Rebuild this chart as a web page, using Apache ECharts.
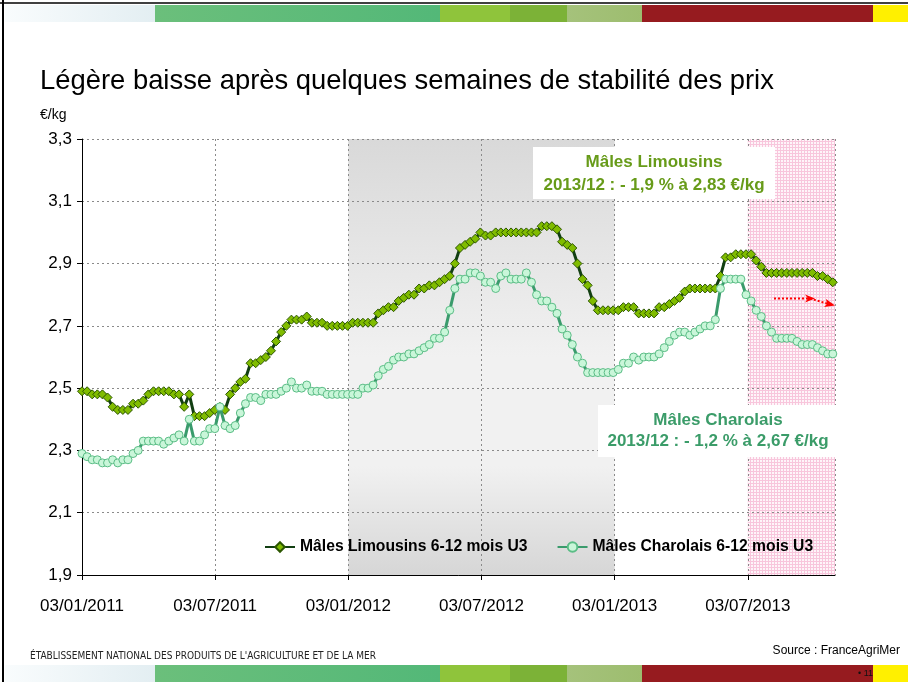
<!DOCTYPE html>
<html><head><meta charset="utf-8">
<script src="https://cdn.jsdelivr.net/npm/echarts@6/dist/echarts.min.js"></script>
<style>html,body{margin:0;padding:0;background:#fff}#c{width:908px;height:682px}</style>
</head><body><div id="c"></div>
<script>
// ---- data ----
const startDate = '2011-01-03';           // first weekly quotation
const xTickLabels = ['03/01/2011','03/07/2011','03/01/2012','03/07/2012','03/01/2013','03/07/2013'];
const seriesNames = ['Mâles Limousins 6-12 mois U3','Mâles Charolais 6-12 mois U3'];
const limousin = [
 2.49,2.49,2.48,2.48,2.48,2.47,2.44,2.43,2.43,2.43,
 2.45,2.45,2.46,2.48,2.49,2.49,2.49,2.49,2.48,2.48,
 2.44,2.48,2.41,2.41,2.41,2.42,2.43,2.44,2.43,2.48,
 2.50,2.52,2.53,2.58,2.58,2.59,2.60,2.62,2.65,2.68,
 2.70,2.72,2.72,2.72,2.73,2.71,2.71,2.71,2.70,2.70,
 2.70,2.70,2.70,2.71,2.71,2.71,2.71,2.71,2.74,2.75,
 2.76,2.76,2.78,2.79,2.80,2.80,2.82,2.82,2.83,2.83,
 2.84,2.85,2.86,2.90,2.95,2.96,2.97,2.98,3.00,2.99,
 2.99,3.00,3.00,3.00,3.00,3.00,3.00,3.00,3.00,3.00,
 3.02,3.02,3.02,3.01,2.97,2.96,2.95,2.90,2.85,2.83,
 2.78,2.75,2.75,2.75,2.75,2.75,2.76,2.76,2.76,2.74,
 2.74,2.74,2.74,2.76,2.76,2.77,2.78,2.79,2.81,2.82,
 2.82,2.82,2.82,2.82,2.82,2.86,2.92,2.92,2.93,2.93,
 2.93,2.93,2.91,2.89,2.87,2.87,2.87,2.87,2.87,2.87,
 2.87,2.87,2.87,2.87,2.86,2.86,2.85,2.84
];
const charolais = [
 2.29,2.28,2.27,2.27,2.26,2.26,2.27,2.26,2.27,2.27,
 2.29,2.30,2.33,2.33,2.33,2.33,2.32,2.33,2.34,2.35,
 2.33,2.40,2.33,2.33,2.35,2.37,2.37,2.44,2.38,2.37,
 2.38,2.42,2.45,2.47,2.47,2.46,2.48,2.48,2.48,2.49,
 2.50,2.52,2.50,2.50,2.51,2.49,2.49,2.49,2.48,2.48,
 2.48,2.48,2.48,2.48,2.48,2.50,2.50,2.51,2.54,2.56,
 2.57,2.59,2.60,2.60,2.61,2.61,2.62,2.63,2.64,2.66,
 2.66,2.68,2.75,2.82,2.85,2.85,2.87,2.87,2.86,2.84,
 2.84,2.82,2.86,2.87,2.85,2.85,2.85,2.87,2.84,2.80,
 2.78,2.78,2.76,2.74,2.69,2.67,2.64,2.60,2.58,2.55,
 2.55,2.55,2.55,2.55,2.55,2.56,2.58,2.58,2.60,2.59,
 2.60,2.60,2.60,2.61,2.63,2.65,2.67,2.68,2.68,2.67,
 2.68,2.69,2.70,2.70,2.72,2.82,2.85,2.85,2.85,2.85,
 2.80,2.78,2.75,2.73,2.70,2.68,2.66,2.66,2.66,2.66,
 2.65,2.64,2.64,2.64,2.63,2.62,2.61,2.61
];
const grayPeriod = ['2012-01-03','2013-01-03'];
const pinkPeriod = ['2013-07-03','2013-10-31'];
const annotations = [
  'Mâles Limousins\n2013/12 : - 1,9 % à 2,83 €/kg',
  'Mâles Charolais\n2013/12 : - 1,2 % à 2,67 €/kg'
];

// ---- helpers ----
const DAY = 86400000;
const t0 = Date.parse(startDate);
const dayOf = s => Math.round((Date.parse(s) - t0) / DAY);
const HALF = 182.5;
const weekDays = limousin.map((_, i) => i * 7);
const FONT = "'Liberation Sans', Arial, sans-serif";

const pat = document.createElement('canvas');
pat.width = 3; pat.height = 3;
const pg = pat.getContext('2d');
pg.fillStyle = '#fef5f9'; pg.fillRect(0, 0, 3, 3);
pg.fillStyle = '#f8c6dc'; pg.fillRect(0, 0, 3, 1); pg.fillRect(0, 0, 1, 3);

const bandSegs = [
  [5, 155, ['#f9fcfd', '#e3eef2']],
  [155, 440, ['#6bbf7b', '#53b878']],
  [440, 510, ['#8fc43b', '#8fc43b']],
  [510, 567, ['#7cb237', '#7cb237']],
  [567, 642, ['#a5c27b', '#9dbd6f']],
  [642, 873, ['#961b1f', '#961b1f']],
  [873, 908, ['#fff000', '#fff000']]
];
function band(y, h) {
  return bandSegs.map(([a, b, c]) => ({
    type: 'rect', shape: { x: a, y: y, width: b - a, height: h }, silent: true,
    style: { fill: new echarts.graphic.LinearGradient(0, 0, 1, 0, [{ offset: 0, color: c[0] }, { offset: 1, color: c[1] }]) }
  }));
}

const chart = echarts.init(document.getElementById('c'), null, { renderer: 'canvas' });
chart.setOption({
  animation: false,
  backgroundColor: '#fff',
  textStyle: { fontFamily: FONT },
  title: {
    text: 'Légère baisse après quelques semaines de stabilité des prix',
    left: 35, top: 63,
    textStyle: { fontFamily: FONT, fontSize: 27.4, fontWeight: 'normal', color: '#000' }
  },
  grid: { left: 82, right: 73, top: 139, bottom: 107 },
  legend: {
    left: 259, top: 534, itemWidth: 30, itemHeight: 12, itemGap: 29,
    textStyle: { fontFamily: FONT, fontSize: 15.7, fontWeight: 'bold', color: '#000' },
    data: seriesNames
  },
  xAxis: {
    type: 'value', min: 0, max: 1032, interval: HALF, z: 1,
    axisLine: { lineStyle: { color: '#000', width: 1 } },
    axisTick: { show: true, length: 5, lineStyle: { color: '#000' } },
    axisLabel: { fontFamily: FONT, fontSize: 17, color: '#000', margin: 23, showMaxLabel: false,
      formatter: v => xTickLabels[Math.round(v / HALF)] || '' },
    splitLine: { show: true, lineStyle: { color: '#8a8a8a', type: [2, 3], width: 1 } }
  },
  yAxis: {
    type: 'value', min: 1.9, max: 3.3, interval: 0.2, z: 1,
    axisLine: { show: true, lineStyle: { color: '#000', width: 1 } },
    axisTick: { show: true, length: 5, lineStyle: { color: '#000' } },
    axisLabel: { fontFamily: FONT, fontSize: 17, color: '#000', margin: 10,
      formatter: v => v.toFixed(1).replace('.', ',') },
    splitLine: { show: true, lineStyle: { color: '#8a8a8a', type: [2, 3], width: 1 } }
  },
  series: [
    {
      type: 'line', name: 'shade', data: [], z: 0, silent: true,
      markArea: {
        silent: true, z: 0,
        data: [
          [{ xAxis: Math.round(dayOf(grayPeriod[0]) / HALF) * HALF, itemStyle: { color: new echarts.graphic.LinearGradient(0, 0, 0, 1, [
              { offset: 0, color: '#d9d9d9' }, { offset: 0.5, color: '#f1f1f1' }, { offset: 0.75, color: '#f1f1f1' }, { offset: 1, color: '#d6d6d6' }]) } },
           { xAxis: Math.round(dayOf(grayPeriod[1]) / HALF) * HALF }],
          [{ xAxis: Math.round(dayOf(pinkPeriod[0]) / HALF) * HALF, itemStyle: { color: { image: pat, repeat: 'repeat' } } },
           { xAxis: 1032 }]
        ]
      }
    },
    {
      type: 'line', name: seriesNames[0], z: 3,
      data: weekDays.map((d, i) => [d, limousin[i]]),
      symbol: 'diamond', symbolSize: 9, showAllSymbol: true,
      lineStyle: { color: '#123f12', width: 3 },
      itemStyle: { color: '#80bc00', borderColor: '#2b5600', borderWidth: 1 }
    },
    {
      type: 'line', name: seriesNames[1], z: 4,
      data: weekDays.map((d, i) => [d, charolais[i]]),
      symbol: 'circle', symbolSize: 8, showAllSymbol: true,
      lineStyle: { color: '#3a9b6c', width: 3 },
      itemStyle: { color: '#c9f6d9', borderColor: '#5bbd86', borderWidth: 1 }
    }
  ],
  graphic: [
    ...band(5, 17), ...band(665, 17),
    { type: 'line', shape: { x1: 3, y1: 0, x2: 3, y2: 682 }, style: { stroke: '#000', lineWidth: 2 } },
    { type: 'line', shape: { x1: 0, y1: 3, x2: 908, y2: 3 }, style: { stroke: '#000', lineWidth: 1.5 } },
    { type: 'text', left: 40, top: 108, style: { text: '€/kg', font: '14px ' + FONT, fill: '#000' } },
    { type: 'rect', shape: { x: 533, y: 147, width: 242, height: 52 }, style: { fill: '#fff' }, z: 10 },
    { type: 'text', x: 654, y: 174, z: 11, style: { text: annotations[0], font: 'bold 17px ' + FONT, fill: '#679b19', align: 'center', verticalAlign: 'middle', lineHeight: 23 } },
    { type: 'rect', shape: { x: 598, y: 405, width: 240, height: 52 }, style: { fill: '#fff' }, z: 10 },
    { type: 'text', x: 718, y: 431, z: 11, style: { text: annotations[1], font: 'bold 17px ' + FONT, fill: '#3b9c69', align: 'center', verticalAlign: 'middle', lineHeight: 21 } },
    { type: 'polyline', z: 10, shape: { points: [[774, 298.5], [810, 298.5], [832, 305]] }, style: { stroke: '#ff0000', lineWidth: 2, lineDash: [2, 2], fill: null } },
    { type: 'polygon', z: 10, shape: { points: [[805, 294.5], [815, 298.5], [805, 302.5], [808, 298.5]] }, style: { fill: '#ff0000' } },
    { type: 'polygon', z: 10, shape: { points: [[826, 299], [835, 305.5], [824, 307], [827, 304]] }, style: { fill: '#ff0000' } },
    { type: 'text', left: 30, top: 651, style: { text: "ÉTABLISSEMENT NATIONAL DES PRODUITS DE L'AGRICULTURE ET DE LA MER", font: "10px 'Liberation Sans Narrow', 'DejaVu Sans Condensed', sans-serif", fill: '#222' } },
    { type: 'text', right: 8, top: 645, style: { text: 'Source : FranceAgriMer', font: '12px ' + FONT, fill: '#000' } },
    { type: 'text', left: 858, top: 669, z: 12, style: { text: '• 11', font: '9px ' + FONT, fill: '#111' } }
  ]
});
</script></body></html>
